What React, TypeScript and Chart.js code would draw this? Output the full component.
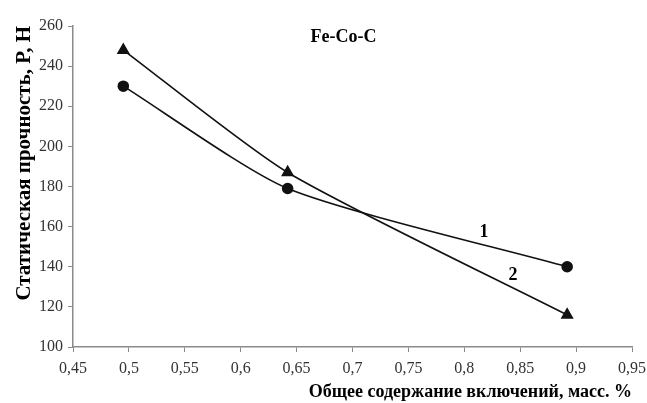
import { useEffect, useRef } from 'react';
import { Chart, registerables } from 'chart.js';

Chart.register(...registerables);

// total inclusion content, mass %
const inclusions = [0.495, 0.642, 0.892];
// static strength P, N
const strength1 = [230, 179, 140];
const strength2 = [248, 187, 116];

const xTicks = [0.45, 0.5, 0.55, 0.6, 0.65, 0.7, 0.75, 0.8, 0.85, 0.9, 0.95];
const yTicks = [100, 120, 140, 160, 180, 200, 220, 240, 260];

// text labels placed in data units
const notes = [
    { text: 'Fe-Co-C', x: 0.692, y: 254.5 },
    { text: '1', x: 0.8176, y: 157.3 },
    { text: '2', x: 0.8436, y: 135.9 },
];

const FONT = '"Liberation Serif", "Times New Roman", serif';
const AXIS = '#8a8a8a';

const notesPlugin = {
    id: 'notes',
    afterDatasetsDraw(chart: Chart) {
        const { ctx, scales } = chart;
        ctx.save();
        ctx.fillStyle = '#000';
        ctx.font = `bold 18px ${FONT}`;
        ctx.textAlign = 'center';
        ctx.textBaseline = 'middle';
        for (const n of notes) {
            ctx.fillText(n.text, scales.x.getPixelForValue(n.x), scales.y.getPixelForValue(n.y));
        }
        ctx.restore();
    },
};

function toPoints(ys: number[]) {
    return ys.map((y, i) => ({ x: inclusions[i], y }));
}

export default function App() {
    const canvasRef = useRef<HTMLCanvasElement>(null);

    useEffect(() => {
        if (!canvasRef.current) return;

        const tickFont = { family: FONT, size: 16 };

        const chart = new Chart(canvasRef.current, {
            type: 'scatter',
            data: {
                datasets: [
                    {
                        label: '1',
                        data: toPoints(strength1),
                        showLine: true,
                        borderColor: '#111',
                        backgroundColor: '#111',
                        borderWidth: 1.6,
                        pointStyle: 'circle',
                        pointRadius: 5,
                        tension: 0.22,
                    },
                    {
                        label: '2',
                        data: toPoints(strength2),
                        showLine: true,
                        borderColor: '#111',
                        backgroundColor: '#111',
                        borderWidth: 1.6,
                        pointStyle: 'triangle',
                        pointRadius: 6,
                        tension: 0.22,
                    },
                ],
            },
            options: {
                animation: false,
                responsive: false,
                layout: { padding: { top: 26, right: 15, left: 12, bottom: 0 } },
                plugins: {
                    legend: { display: false },
                    tooltip: { enabled: false },
                },
                scales: {
                    x: {
                        type: 'linear',
                        min: 0.45,
                        max: 0.95,
                        afterBuildTicks: (s) => { s.ticks = xTicks.map(v => ({ value: v })); },
                        afterFit: (s) => {
                            s.height = 56;
                            s.paddingLeft = 0;
                            s.paddingRight = 0;
                        },
                        ticks: {
                            color: '#333',
                            font: tickFont,
                            padding: 7,
                            callback: (v) => String(v).replace('.', ','),
                        },
                        grid: { drawOnChartArea: false, drawTicks: true, tickLength: 5, color: AXIS },
                        border: { color: AXIS, width: 1.5 },
                        title: {
                            display: true,
                            text: 'Общее содержание включений, масс. %',
                            align: 'end',
                            color: '#000',
                            font: { family: FONT, size: 18, weight: 'bold' },
                            padding: { top: 0, bottom: 0 },
                        },
                    },
                    y: {
                        type: 'linear',
                        min: 100,
                        max: 260,
                        afterBuildTicks: (s) => { s.ticks = yTicks.map(v => ({ value: v })); },
                        afterFit: (s) => {
                            s.width = 61;
                            s.paddingTop = 0;
                            s.paddingBottom = 0;
                        },
                        ticks: { color: '#333', font: tickFont, padding: 5 },
                        grid: { drawOnChartArea: false, drawTicks: true, tickLength: 5, color: AXIS },
                        border: { color: AXIS, width: 1.5 },
                        title: {
                            display: true,
                            text: 'Статическая прочность, P, H',
                            align: 'end',
                            color: '#000',
                            font: { family: FONT, size: 21, weight: 'bold' },
                            padding: { top: 0, bottom: 0 },
                        },
                    },
                },
            },
            plugins: [notesPlugin],
        });

        return () => chart.destroy();
    }, []);

    return (
        <div style={{ position: 'absolute', left: 0, top: 0, width: 647, height: 403, background: '#fff' }}>
            <canvas ref={canvasRef} width={647} height={403} />
        </div>
    );
}
